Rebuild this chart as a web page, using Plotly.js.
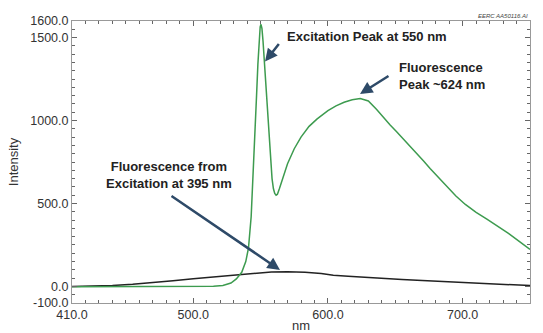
<!DOCTYPE html>
<html>
<head>
<meta charset="utf-8">
<script src="https://cdn.plot.ly/plotly-3.0.1.min.js"></script>
<style>html,body{margin:0;padding:0;background:#fff;}#chart{width:543px;height:333px;}</style>
</head>
<body>
<div id="chart"></div>
<script>
// Green curve: excitation + fluorescence spectrum (nm, intensity)
const greenNm = [410, 450, 500, 515, 522, 528, 532, 536, 539, 541, 543, 545, 546, 547, 548, 549, 549.7, 550.3, 551, 551.8, 552.6, 553.5, 554.5, 555.5, 556.5, 557.5, 558.5, 559.5, 560.5, 561.5, 562.5, 564, 566, 570, 575, 580, 586, 592, 600, 606, 612, 618, 624, 630, 636, 641, 646, 651, 656, 661, 666, 671, 676, 681, 688, 695, 702, 710, 718, 726, 734, 742, 750];
const greenVal = [-2, -2, -1, 1, 5, 20, 45, 85, 150, 230, 420, 750, 950, 1150, 1340, 1500, 1565, 1580, 1555, 1480, 1380, 1260, 1130, 1000, 860, 740, 650, 590, 560, 550, 556, 590, 645, 740, 830, 900, 965, 1010, 1060, 1088, 1110, 1125, 1133, 1118, 1068, 1018, 974, 932, 889, 846, 801, 756, 710, 665, 602, 545, 494, 446, 405, 363, 320, 272, 223];

// Black curve: fluorescence from excitation at 395 nm
const blackNm = [410, 425, 440, 455, 470, 485, 500, 515, 529, 543, 558, 570, 583, 595, 604, 615, 627, 639, 655, 670, 685, 700, 718, 735, 750];
const blackVal = [0, 2, 6, 13, 22, 34, 46, 57, 68, 78, 87, 89, 86, 78, 68, 62, 55, 48, 42, 35, 29, 22, 15, 10, 5];

// Axis tick labels
const xLabelVals = [410, 500, 600, 700, 750];
const xLabelText = ["410.0", "500.0", "600.0", "700.0", "750.0"];
const yLabelVals = [-100, 0, 500, 1000, 1500, 1600];
const yLabelText = ["-100.0", "0.0", "500.0", "1000.0", "1500.0", "1600.0"];

// tick positions (every 10 nm / every 50 counts)
function buildRange(from, to, step) {
  const vals = [];
  for (let v = from; v <= to + 1e-9; v += step) vals.push(v);
  return vals;
}
const xMinorVals = buildRange(410, 750, 10);
const yMinorVals = buildRange(-100, 1600, 50);

const FONT = "Liberation Sans, Arial, sans-serif";
const ARROW = "#2e4a68";
const TXT = "#222";

const traces = [
  {x: blackNm, y: blackVal, type: "scatter", mode: "lines", line: {color: "#222", width: 1.5}, hoverinfo: "skip"},
  {x: greenNm, y: greenVal, type: "scatter", mode: "lines", line: {color: "#3d9b4f", width: 1.5}, hoverinfo: "skip"},
  // invisible trace on the overlay axes so they get drawn
  {x: [410, 750], y: [-100, 1600], xaxis: "x2", yaxis: "y2", type: "scatter", mode: "markers", marker: {opacity: 0}, hoverinfo: "skip"}
];

const tickAxis = {
  showline: true, linecolor: "#999", linewidth: 1, mirror: "ticks",
  ticks: "inside", ticklen: 5, tickcolor: "#666", tickwidth: 1,
  showgrid: false, zeroline: false,
  tickfont: {family: FONT, size: 12.5, color: "#333"}
};
const minorAxis = {
  showline: false, mirror: "ticks", ticks: "inside", ticklen: 3, tickcolor: "#666", tickwidth: 1,
  showgrid: false, zeroline: false, showticklabels: false, tickmode: "array"
};

const layout = {
  width: 543, height: 333,
  margin: {l: 72, r: 13, t: 21, b: 30},
  paper_bgcolor: "#fff", plot_bgcolor: "rgba(0,0,0,0)",
  showlegend: false,
  xaxis: Object.assign({}, tickAxis, {
    range: [410, 750], tickmode: "array", tickvals: xLabelVals, ticktext: xLabelText,
    title: {text: "nm", font: {family: FONT, size: 13, color: "#333"}, standoff: 2}
  }),
  yaxis: Object.assign({}, tickAxis, {
    range: [-100, 1600], tickmode: "array", tickvals: yLabelVals, ticktext: yLabelText,
    title: {text: "Intensity", font: {family: FONT, size: 13, color: "#333"}, standoff: 8}
  }),
  xaxis2: Object.assign({}, minorAxis, {range: [410, 750], tickvals: xMinorVals, overlaying: "x", anchor: "y2", side: "bottom"}),
  yaxis2: Object.assign({}, minorAxis, {range: [-100, 1600], tickvals: yMinorVals, overlaying: "y", anchor: "x2", side: "left"}),
  annotations: [
    {x: 553.3, y: 1356, xref: "x", yref: "y", text: "", showarrow: true, ax: 15, ay: -19, arrowhead: 2, arrowsize: 1, arrowwidth: 2.5, arrowcolor: ARROW},
    {x: 623.8, y: 1160, xref: "x", yref: "y", text: "", showarrow: true, ax: 30, ay: -19, arrowhead: 2, arrowsize: 1, arrowwidth: 2.5, arrowcolor: ARROW},
    {x: 564.4, y: 99, xref: "x", yref: "y", text: "", showarrow: true, ax: -110, ay: -75, arrowhead: 2, arrowsize: 1, arrowwidth: 2.5, arrowcolor: ARROW},
    {x: 568.1, y: 1507, xref: "x", yref: "y", xanchor: "left", yanchor: "middle", showarrow: false,
     text: "<b>Excitation Peak at 550 nm</b>", font: {family: FONT, size: 13, color: TXT}},
    {x: 651.3, y: 1269, xref: "x", yref: "y", xanchor: "left", yanchor: "middle", align: "left", showarrow: false,
     text: "<b>Fluorescence<br>Peak ~624 nm</b>", font: {family: FONT, size: 13, color: TXT}},
    {x: 482, y: 672, xref: "x", yref: "y", xanchor: "center", yanchor: "middle", align: "center", showarrow: false,
     text: "<b>Fluorescence from<br>Excitation at 395 nm</b>", font: {family: FONT, size: 13, color: TXT}},
    {x: 1, y: 1, xref: "paper", yref: "paper", xanchor: "right", yanchor: "bottom", showarrow: false,
     text: "<i>EERC AA50116.AI</i>", font: {family: FONT, size: 6, color: "#444"}}
  ]
};

Plotly.newPlot("chart", traces, layout, {staticPlot: true, displayModeBar: false});
</script>
</body>
</html>
